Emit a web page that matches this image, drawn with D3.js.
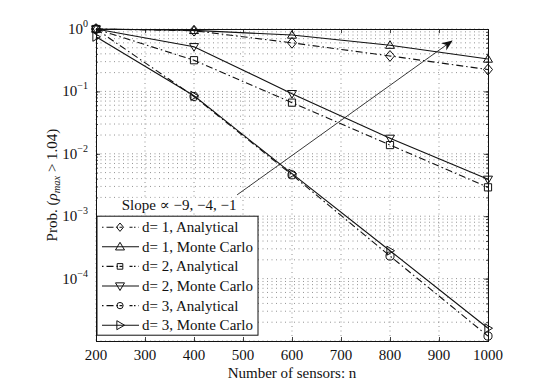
<!DOCTYPE html>
<html>
<head>
<meta charset="utf-8">
<script src="https://cdn.jsdelivr.net/npm/d3@7"></script>
<style>
  body { margin: 0; background: #fff; }
  svg text { font-family: "Liberation Serif", "DejaVu Serif", serif; fill: #111; }
</style>
</head>
<body>
<div id="chart"></div>
<script>
// data
const nValues = [200, 400, 600, 800, 1000];
const d1Analytical = [1, 0.94, 0.60, 0.37, 0.224];
const d1MonteCarlo = [1, 0.95, 0.80, 0.55, 0.33];
const d2Analytical = [1, 0.316, 0.066, 0.0138, 0.0029];
const d2MonteCarlo = [1, 0.52, 0.092, 0.0177, 0.0039];
const d3Analytical = [1, 0.083, 0.0046, 0.00023, 1.2e-5];
const d3MonteCarlo = [0.75, 0.085, 0.0048, 0.00028, 1.6e-5];
const xTicks = [200, 300, 400, 500, 600, 700, 800, 900, 1000];
const yTickExps = [0, -1, -2, -3, -4];
const arrowFrom = [488, 0.0022];
const arrowTo = [926, 0.64];

const series = [
  { label: "d= 1, Analytical", values: d1Analytical, marker: "diamond", dash: "7,3,1.5,3" },
  { label: "d= 1, Monte Carlo", values: d1MonteCarlo, marker: "up", dash: null },
  { label: "d= 2, Analytical", values: d2Analytical, marker: "square", dash: "7,3,1.5,3" },
  { label: "d= 2, Monte Carlo", values: d2MonteCarlo, marker: "down", dash: null },
  { label: "d= 3, Analytical", values: d3Analytical, marker: "circle", dash: "7,3,1.5,3" },
  { label: "d= 3, Monte Carlo", values: d3MonteCarlo, marker: "right", dash: null }
];

const width = 540, height = 384;
const margin = { top: 29, right: 52, bottom: 43, left: 96 };
const iw = width - margin.left - margin.right;
const ih = height - margin.top - margin.bottom;

const svg = d3.select("#chart").append("svg")
  .attr("width", width).attr("height", height);

const defs = svg.append("defs");
defs.append("marker")
  .attr("id", "arrowhead")
  .attr("viewBox", "0 0 10 10")
  .attr("refX", 9).attr("refY", 5)
  .attr("markerWidth", 11).attr("markerHeight", 11)
  .attr("markerUnits", "userSpaceOnUse")
  .attr("orient", "auto")
  .append("path")
  .attr("d", "M0,1 L10,5 L0,9 L3,5 Z")
  .attr("fill", "#111");

const g = svg.append("g").attr("transform", `translate(${margin.left},${margin.top})`);

const x = d3.scaleLinear().domain([200, 1000]).range([0, iw]);
const y = d3.scaleLog().domain([1e-5, 1]).range([ih, 0]);

// grid
const minorY = [];
for (let e = -5; e < 0; e++) {
  for (let k = 1; k <= 9; k++) minorY.push(k * Math.pow(10, e));
}
minorY.push(1);

g.append("g").selectAll("line").data(minorY).join("line")
  .attr("x1", 0).attr("x2", iw)
  .attr("y1", d => y(d)).attr("y2", d => y(d))
  .attr("stroke", "#777").attr("stroke-width", 0.8)
  .attr("stroke-dasharray", "1,3.5");

g.append("g").selectAll("line").data(xTicks).join("line")
  .attr("x1", d => x(d)).attr("x2", d => x(d))
  .attr("y1", 0).attr("y2", ih)
  .attr("stroke", "#777").attr("stroke-width", 0.8)
  .attr("stroke-dasharray", "1,3.5");

// axes (ticks inside)
const axB = d3.axisBottom(x).tickValues(xTicks).tickSize(-4).tickFormat("");
const axT = d3.axisTop(x).tickValues(xTicks).tickSize(-4).tickFormat("");
g.append("g").attr("transform", `translate(0,${ih})`).call(axB);
g.append("g").call(axT);

const axL = d3.axisLeft(y).tickValues(minorY).tickSize(-2).tickFormat("");
const axR = d3.axisRight(y).tickValues(minorY).tickSize(-2).tickFormat("");
g.append("g").call(axL);
g.append("g").attr("transform", `translate(${iw},0)`).call(axR);
const majorY = yTickExps.map(e => Math.pow(10, e)).concat([1e-5]);
g.append("g").call(d3.axisLeft(y).tickValues(majorY).tickSize(-4).tickFormat(""));
g.append("g").attr("transform", `translate(${iw},0)`)
  .call(d3.axisRight(y).tickValues(majorY).tickSize(-4).tickFormat(""));

g.selectAll(".domain").attr("stroke", "#111").attr("stroke-width", 1);
g.selectAll(".tick line").attr("stroke", "#111").attr("stroke-width", 0.8);

// tick labels
g.append("g").selectAll("text").data(xTicks).join("text")
  .attr("x", d => x(d)).attr("y", ih + 19)
  .attr("text-anchor", "middle")
  .style("font-size", "15px")
  .text(d => d);

const yl = g.append("g").selectAll("text").data(yTickExps).join("text")
  .attr("x", -8).attr("y", d => y(Math.pow(10, d)) + 5)
  .attr("text-anchor", "end")
  .style("font-size", "15px");
yl.append("tspan").text("10");
yl.append("tspan").attr("dy", -7).style("font-size", "10px")
  .text(d => d === 0 ? "0" : "\u2212" + Math.abs(d));

// axis titles
svg.append("text")
  .attr("x", margin.left + iw / 2).attr("y", height - 6)
  .attr("text-anchor", "middle")
  .style("font-size", "15px")
  .text("Number of sensors: n");

const ylab = svg.append("text")
  .attr("transform", `translate(57,${margin.top + ih / 2}) rotate(-90)`)
  .attr("text-anchor", "middle")
  .style("font-size", "15px");
ylab.append("tspan").text("Prob. (");
ylab.append("tspan").style("font-style", "italic").text("\u03C1");
ylab.append("tspan").attr("dy", 3).style("font-style", "italic").style("font-size", "10.5px").text("max");
ylab.append("tspan").attr("dy", -3).text(" > 1.04)");

// lines
const line = d3.line()
  .x((d, i) => x(nValues[i]))
  .y(d => y(d));

const clip = defs.append("clipPath").attr("id", "plotclip");
clip.append("rect").attr("x", -8).attr("y", -8).attr("width", iw + 16).attr("height", ih + 16);

const plot = g.append("g").attr("clip-path", "url(#plotclip)");

function drawMarker(sel, type, s) {
  const r = s;
  let p;
  if (type === "diamond") p = `M0,${-r * 1.2}L${r},0L0,${r * 1.2}L${-r},0Z`;
  else if (type === "square") p = `M${-r * 0.8},${-r * 0.8}h${r * 1.6}v${r * 1.6}h${-r * 1.6}Z`;
  else if (type === "up") p = `M0,${-r}L${r},${r * 0.7}L${-r},${r * 0.7}Z`;
  else if (type === "down") p = `M0,${r}L${r},${-r * 0.7}L${-r},${-r * 0.7}Z`;
  else if (type === "right") p = `M${r},0L${-r * 0.7},${r}L${-r * 0.7},${-r}Z`;
  if (type === "circle") {
    sel.append("circle").attr("r", r * 0.9);
  } else {
    sel.append("path").attr("d", p);
  }
  sel.selectAll("path,circle")
    .attr("fill", "none").attr("stroke", "#111").attr("stroke-width", 1);
}

series.forEach(s => {
  plot.append("path")
    .datum(s.values)
    .attr("d", line)
    .attr("fill", "none")
    .attr("stroke", "#111")
    .attr("stroke-width", 1.1)
    .attr("stroke-dasharray", s.dash);
  s.values.forEach((v, i) => {
    const m = plot.append("g").attr("transform", `translate(${x(nValues[i])},${y(v)})`);
    drawMarker(m, s.marker, 4.5);
  });
});

// slope arrow
g.append("line")
  .attr("x1", x(arrowFrom[0])).attr("y1", y(arrowFrom[1]))
  .attr("x2", x(arrowTo[0])).attr("y2", y(arrowTo[1]))
  .attr("stroke", "#222").attr("stroke-width", 0.9)
  .attr("marker-end", "url(#arrowhead)");

const slopeText = g.append("text")
  .attr("x", x(488) - 58).attr("y", y(arrowFrom[1]) + 15)
  .attr("text-anchor", "middle")
  .style("font-size", "15px")
  .text("Slope \u221D \u22129, \u22124, \u22121");
const bb = slopeText.node().getBBox();
g.insert("rect", () => slopeText.node())
  .attr("x", bb.x - 2).attr("y", bb.y + 1).attr("width", bb.width + 4).attr("height", bb.height - 1)
  .attr("fill", "#fff");

// legend
const legend = g.append("g").attr("transform", `translate(1,${y(1e-3)})`);
const lw = 161, lh = 119;
legend.append("rect")
  .attr("x", 0).attr("y", 0).attr("width", lw).attr("height", lh)
  .attr("fill", "#fff").attr("stroke", "#111").attr("stroke-width", 1);

const items = legend.selectAll(".item").data(series).join("g")
  .attr("class", "item")
  .attr("transform", (d, i) => `translate(0,${11 + i * 19.6})`);

items.append("line")
  .attr("x1", 5).attr("x2", 42)
  .attr("stroke", "#111").attr("stroke-width", 1.1)
  .attr("stroke-dasharray", d => d.dash ? "1.5,3,7,3,1.5" : null);
items.each(function (d) {
  const m = d3.select(this).append("g").attr("transform", "translate(23,0)");
  drawMarker(m, d.marker, d.dash ? 3.5 : 4.5);
});
items.append("text")
  .attr("x", 45).attr("y", 5)
  .style("font-size", "15px")
  .text(d => d.label);
</script>
</body>
</html>
